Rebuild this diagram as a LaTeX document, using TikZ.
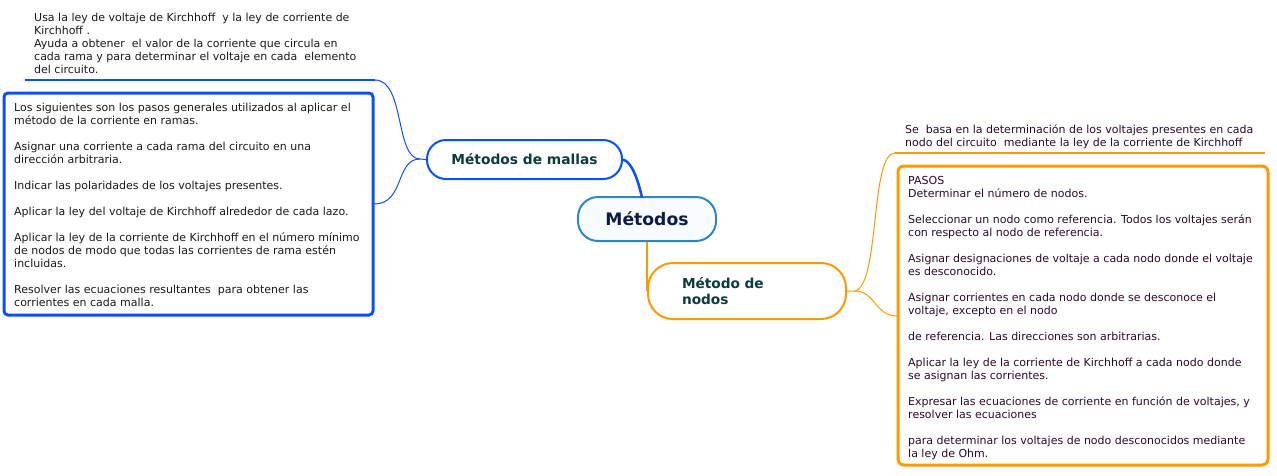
\documentclass[tikz,border=0pt]{standalone}
\usepackage{fontspec}
\setmainfont{DejaVu Sans}
\definecolor{mblue}{HTML}{0A50FF}
\definecolor{cblue}{HTML}{2E86C8}
\definecolor{cfill}{HTML}{F8FCFF}
\definecolor{navy}{HTML}{0A1A4A}
\definecolor{teal}{HTML}{0B3B3B}
\definecolor{morange}{HTML}{FF9900}
\definecolor{ltext}{HTML}{1A1A1A}
\definecolor{rtext}{HTML}{2B0A28}
\tikzset{
  txt/.style={anchor=north west, inner sep=0pt, align=left, font={\fontsize{11}{13}\selectfont}},
  branch/.style={rounded corners=19pt, line width=2pt, font={\fontsize{13.8}{16}\selectfont\bfseries}, text=teal},
}
\begin{document}
\begin{tikzpicture}[x=1pt,y=-1pt]
\useasboundingbox (0,0) rectangle (1277,475);
% left side
\node[txt, text=ltext] (mtop) at (34,12.5) {Usa la ley de voltaje de Kirchhoff\ \ y la ley de corriente de\\Kirchhoff .\\Ayuda a obtener\ \ el valor de la corriente que circula en\\cada rama y para determinar el voltaje en cada\ \ elemento\\del circuito.};
\coordinate (mul) at (25,80);
\coordinate (mur) at (375,80);
\draw[mblue, line width=2pt] (mul) -- (mur);
\draw[mblue, line width=3pt, rounded corners=4pt] (4,93) rectangle (373,315);
\node[txt, text=ltext] (mbox) at (14,103) {Los siguientes son los pasos generales utilizados al aplicar el\\método de la corriente en ramas.\\[13pt]Asignar una corriente a cada rama del circuito en una\\dirección arbitraria.\\[13pt]Indicar las polaridades de los voltajes presentes.\\[13pt]Aplicar la ley del voltaje de Kirchhoff alrededor de cada lazo.\\[13pt]Aplicar la ley de la corriente de Kirchhoff en el número mínimo\\de nodos de modo que todas las corrientes de rama estén\\incluidas.\\[13pt]Resolver las ecuaciones resultantes\ \ para obtener las\\corrientes en cada malla.};
\coordinate (mboxr) at (374,204);
% mallas node
\node[branch, draw=mblue, minimum width=195pt, minimum height=39pt] (mallas) at (524.5,159.5) {Métodos de mallas};
\coordinate (mj) at (420,159);
\draw[mblue, line width=1pt] (mur) .. controls (405,80) and (395,159) .. (mj) -- (mallas.west);
\draw[mblue, line width=1pt] (mboxr) .. controls (405,204) and (395,159) .. (mj);
% center
\node[rounded corners=20pt, draw=cblue, fill=cfill, line width=2pt, minimum width=138pt, minimum height=44pt, text=navy, font={\fontsize{17.2}{19}\selectfont\bfseries}] (main) at (647,219) {Métodos};
\draw[mblue, line width=2.5pt] (mallas.east) .. controls (632,162) and (638,180) .. (642,197.5);
% nodos
\node[rounded corners=25pt, draw=morange, line width=2pt, minimum width=198pt, minimum height=56pt, text=teal, font={\fontsize{13.7}{16}\selectfont\bfseries}, align=left, text width=130pt] (nodos) at (747,291) {Método de\\nodos};
\draw[morange, line width=2.5pt] (647,242) -- (647,282) .. controls (647,288) .. (nodos.west);
% right side
\node[txt, text=rtext] (ntop) at (905,124.5) {Se\ \ basa en la determinación de los voltajes presentes en cada\\nodo del circuito\ \ mediante la ley de la corriente de Kirchhoff};
\coordinate (nul) at (895,153);
\coordinate (nur) at (1265,153);
\draw[morange, line width=2pt] (nul) -- (nur);
\draw[morange, line width=3pt, rounded corners=6pt] (898,166) rectangle (1268,465);
\node[txt, text=rtext] (nbox) at (908,176) {PASOS\\Determinar el número de nodos.\\[13pt]Seleccionar un nodo como referencia. Todos los voltajes serán\\con respecto al nodo de referencia.\\[13pt]Asignar designaciones de voltaje a cada nodo donde el voltaje\\es desconocido.\\[13pt]Asignar corrientes en cada nodo donde se desconoce el\\voltaje, excepto en el nodo\\[13pt]de referencia. Las direcciones son arbitrarias.\\[13pt]Aplicar la ley de la corriente de Kirchhoff a cada nodo donde\\se asignan las corrientes.\\[13pt]Expresar las ecuaciones de corriente en función de voltajes, y\\resolver las ecuaciones\\[13pt]para determinar los voltajes de nodo desconocidos mediante\\la ley de Ohm.};
\coordinate (nj) at (855,291);
\coordinate (nboxl) at (897,316);
\draw[morange, line width=1pt] (nodos.east) -- (nj) .. controls (880,285) and (870,153) .. (nul);
\draw[morange, line width=1pt] (nj) .. controls (875,291) and (875,316) .. (nboxl);
\end{tikzpicture}
\end{document}
